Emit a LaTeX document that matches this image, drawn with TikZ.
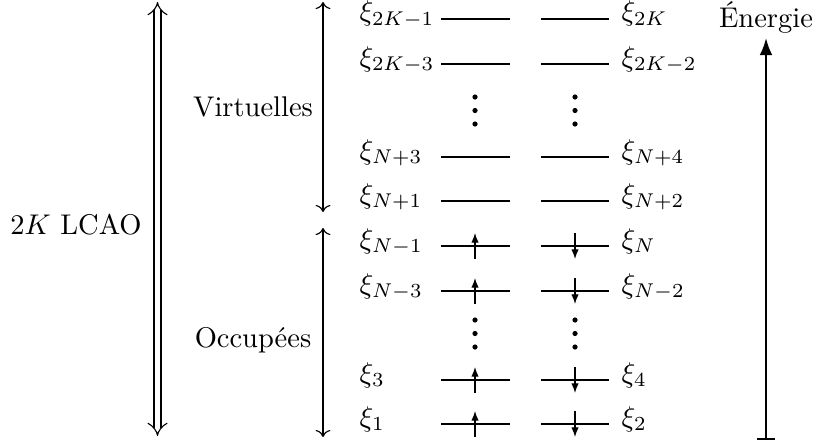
\documentclass[tikz,border=0pt]{standalone}
\usetikzlibrary{arrows.meta}
\begin{document}
\begin{tikzpicture}[x=0.351pt,y=-0.351pt,
  lbl/.style={anchor=base west,inner sep=0pt},
  txt/.style={anchor=base,inner sep=0pt},
  level/.style={line width=0.4pt},
  spin/.style={line width=0.4pt,-{Latex[length=3.4pt,width=2.6pt]}},
  span/.style={line width=0.4pt,<->},
  dot/.style={fill=black,draw=none}]
\useasboundingbox (0,0) rectangle (816,447);

% left labels
\node[txt] (lcao) at (76,234) {$2K$ LCAO};
\node[txt] (virt) at (253,116) {Virtuelles};
\node[txt] (occ) at (253,347) {Occup\'ees};

% double arrow
\coordinate (dtop) at (157.5,2);
\coordinate (dbot) at (157.5,436);
\draw[double,double distance=2.1pt,line width=0.4pt,{Implies[scale=1.35]}-{Implies[scale=1.35]}] (dtop) -- (dbot);

% single arrows
\coordinate (vtop) at (323,2);
\coordinate (vbot) at (323,212);
\coordinate (otop) at (323,228);
\coordinate (obot) at (323,437);
\draw[span] (vtop) -- (vbot);
\draw[span] (otop) -- (obot);

% levels
\foreach \y/\l/\r/\name in {19/{2K-1}/{2K}/a, 64/{2K-3}/{2K-2}/b, 157/{N+3}/{N+4}/c, 201/{N+1}/{N+2}/d, 246/{N-1}/{N}/e, 291/{N-3}/{N-2}/f, 380/{3}/{4}/g, 424/{1}/{2}/h}{
  \node[lbl] (L\name) at (359,\y+2) {$\xi_{\l}$};
  \node[lbl] (R\name) at (621,\y+2) {$\xi_{\r}$};
  \coordinate (L\name a) at (441,\y);
  \coordinate (L\name b) at (510,\y);
  \coordinate (R\name a) at (541,\y);
  \coordinate (R\name b) at (609,\y);
  \draw[level] (L\name a) -- (L\name b);
  \draw[level] (R\name a) -- (R\name b);
}

% spins
\foreach \y/\name in {246/e, 291/f, 380/g, 424/h}{
  \coordinate (u\name a) at (475,\y+13);
  \coordinate (u\name b) at (475,\y-13);
  \coordinate (d\name a) at (575,\y-13);
  \coordinate (d\name b) at (575,\y+13);
  \draw[spin] (u\name a) -- (u\name b);
  \draw[spin] (d\name a) -- (d\name b);
}

% dots
\foreach \x in {475,575}{
  \foreach \y in {97,110.5,124,320,333.5,347}{
    \fill[dot] (\x,\y) circle[radius=2.6];
  }
}

% energy
\node[txt] (en) at (766,28) {\'Energie};
\coordinate (ebot) at (766,440);
\coordinate (etop) at (766,38);
\draw[line width=0.8pt,{Bar[width=6pt]}-{Latex[length=6pt,width=4.5pt]}] (ebot) -- (etop);
\end{tikzpicture}
\end{document}
